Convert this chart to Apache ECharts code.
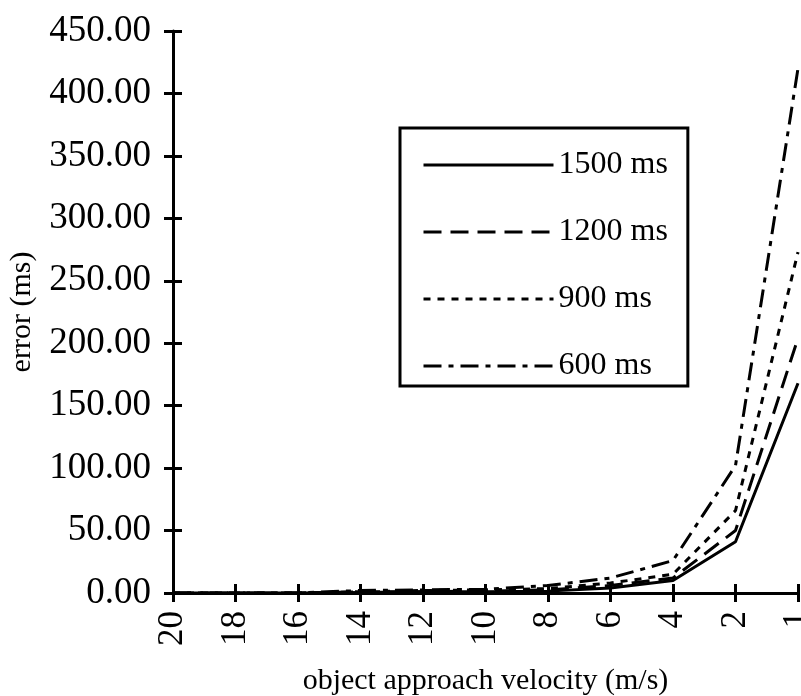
<!DOCTYPE html>
<html>
<head>
<meta charset="utf-8">
<script src="https://cdn.jsdelivr.net/npm/echarts@6/dist/echarts.min.js"></script>
<style>
  html, body { margin: 0; padding: 0; background: #fff; overflow: hidden; }
  #chart { width: 801px; height: 696px; display: block; }
</style>
</head>
<body>
<div id="chart"></div>
<script>
// Object approach velocity (m/s), fastest on the left
const velocities = ['20', '18', '16', '14', '12', '10', '8', '6', '4', '2', '1'];

// Timing error (ms) for each prediction horizon
const err1500 = [0, 0, 0, 0.5, 1, 1, 1.5, 4, 10, 41, 168];
const err1200 = [0, 0, 0, 1, 1, 1.5, 2.5, 6, 12, 50, 204];
const err900  = [0, 0, 0, 1, 2, 2.5, 3.5, 8, 15, 66, 273];
const err600  = [0, 0, 0, 2, 2.5, 3, 6, 12, 26, 102, 420];

const seriesNames = ['1500 ms', '1200 ms', '900 ms', '600 ms'];
const yTicks = { min: 0, max: 450, step: 50 };

const FONT = 'Liberation Serif';
const INK = '#000';

const chart = echarts.init(document.getElementById('chart'), null, { renderer: 'canvas' });

function lineSeries(name, data, dash) {
  return {
    name: name,
    type: 'line',
    data: data,
    xAxisIndex: 0,
    yAxisIndex: 0,
    symbol: 'none',
    showSymbol: false,
    smooth: false,
    animation: false,
    lineStyle: { color: INK, width: 3, type: dash, cap: 'butt' },
    itemStyle: { color: INK }
  };
}

const option = {
  backgroundColor: '#fff',
  animation: false,
  grid: {
    left: 173, right: 3, top: 31, bottom: 103,
    containLabel: false,
    outerBoundsMode: 'none'
  },
  legend: {
    orient: 'vertical',
    left: 400,
    top: 128,
    padding: [21, 20, 4, 22],
    itemGap: 35,
    itemWidth: 130,
    itemHeight: 30,
    borderColor: INK,
    borderWidth: 3,
    backgroundColor: '#fff',
    itemStyle: { opacity: 0 },
    lineStyle: { width: 3, color: INK },
    textStyle: { fontFamily: FONT, fontSize: 32, color: INK },
    data: seriesNames
  },
  xAxis: [
    {
      type: 'category',
      data: velocities,
      boundaryGap: false,
      position: 'bottom',
      axisLine: { show: true, lineStyle: { color: INK, width: 3 } },
      axisTick: { show: true, inside: false, length: 9, lineStyle: { color: INK, width: 3 } },
      axisLabel: {
        rotate: 90, margin: 18, color: INK, fontFamily: FONT, fontSize: 35
      },
      splitLine: { show: false },
      name: 'object approach velocity (m/s)',
      nameLocation: 'middle',
      nameGap: 73,
      nameTextStyle: { fontFamily: FONT, fontSize: 30, color: INK }
    },
    {
      type: 'category',
      data: velocities,
      boundaryGap: false,
      position: 'bottom',
      axisLine: { show: false },
      axisTick: { show: true, inside: true, length: 9, lineStyle: { color: INK, width: 3 } },
      axisLabel: { show: false },
      splitLine: { show: false }
    }
  ],
  yAxis: [
    {
      type: 'value',
      min: yTicks.min,
      max: yTicks.max,
      interval: yTicks.step,
      axisLine: { show: true, lineStyle: { color: INK, width: 3 } },
      axisTick: { show: true, inside: false, length: 9, lineStyle: { color: INK, width: 3 } },
      axisLabel: {
        margin: 22, color: INK, fontFamily: FONT, fontSize: 37,
        formatter: v => v.toFixed(2)
      },
      splitLine: { show: false },
      name: 'error (ms)',
      nameLocation: 'middle',
      nameGap: 136,
      nameTextStyle: { fontFamily: FONT, fontSize: 30, color: INK }
    },
    {
      type: 'value',
      min: yTicks.min,
      max: yTicks.max,
      interval: yTicks.step,
      position: 'left',
      axisLine: { show: false },
      axisTick: { show: true, inside: true, length: 9, lineStyle: { color: INK, width: 3 } },
      axisLabel: { show: false },
      splitLine: { show: false }
    }
  ],
  series: [
    lineSeries(seriesNames[0], err1500, 'solid'),
    lineSeries(seriesNames[1], err1200, [18, 9]),
    lineSeries(seriesNames[2], err900, [7, 7]),
    lineSeries(seriesNames[3], err600, [18, 7, 5, 7])
  ]
};

chart.setOption(option);
</script>
</body>
</html>
